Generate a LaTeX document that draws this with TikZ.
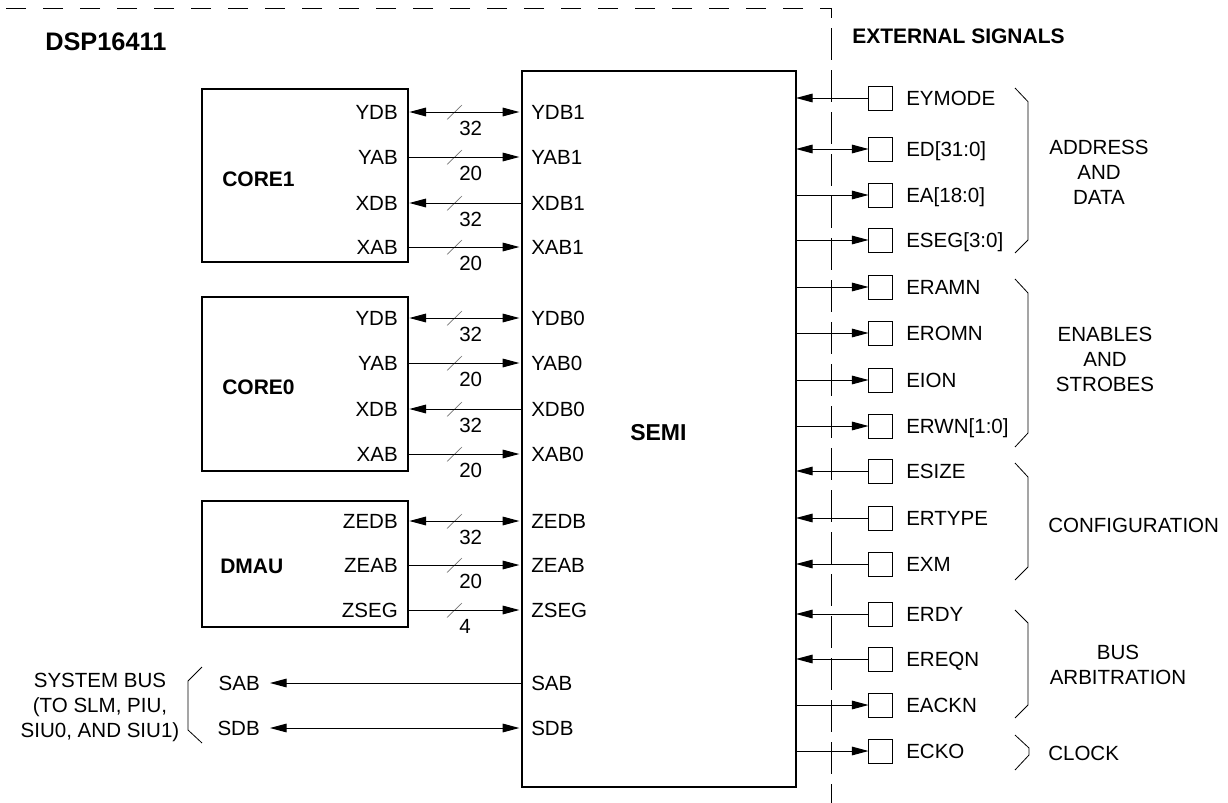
\documentclass[tikz,border=0pt]{standalone}
\usepackage{fontspec}
\setmainfont{Liberation Sans}
\usetikzlibrary{arrows.meta}
\begin{document}
\begin{tikzpicture}[x=0.75pt,y=-0.75pt,
  >={Triangle[length=12.5pt,width=6.5pt]},
  blk/.style={draw, line width=1.5pt, inner sep=0pt, outer sep=0pt, anchor=north west},
  sig/.style={line width=0.75pt},
  pinbox/.style={draw, line width=0.75pt, minimum size=18pt, inner sep=0pt, outer sep=0pt},
  txt/.style={font=\fontsize{15.4}{18.75}\selectfont, inner sep=0pt},
  btxt/.style={font=\fontsize{15.75}{19}\selectfont\bfseries, inner sep=0pt},
  bw/.style={draw=black!55, line width=0.5pt},
  brc/.style={line width=0.6pt},
  dsh/.style={line width=0.75pt, dash pattern=on 15pt off 12.75pt},
  vdsh/.style={line width=0.75pt, dash pattern=on 24pt off 7.5pt}]

\path[use as bounding box] (0,0) rectangle (1228,803);

% blocks
\node[blk, minimum width=154.5pt, minimum height=129.75pt] (core1) at (202,89) {};
\node[blk, minimum width=154.5pt, minimum height=130.5pt] (core0) at (202,297) {};
\node[blk, minimum width=154.5pt, minimum height=94.5pt] (dmau) at (202,501) {};
\node[blk, minimum width=205.5pt, minimum height=537pt] (semi) at (522,71) {};

% titles
\node[btxt, anchor=base west] (tcore1) at (222,186) {CORE1};
\node[btxt, anchor=base west] (tcore0) at (222,394) {CORE0};
\node[btxt, anchor=base west] (tdmau) at (220,573) {DMAU};
\node[font=\fontsize{17.25}{20}\selectfont\bfseries, inner sep=0pt, anchor=base west] (tsemi) at (630,440) {SEMI};
\node[font=\fontsize{19}{22}\selectfont\bfseries, inner sep=0pt, anchor=base west] (tdsp) at (45,50) {DSP16411};
\node[btxt, anchor=base west] (text) at (852,43) {EXTERNAL SIGNALS};

% dashed boundary
\coordinate (corner) at (831,8);
\coordinate (hend) at (0,8);
\coordinate (vend) at (831,803);
\draw[dsh, dash phase=6.75pt] (corner) -- (hend);
\draw[vdsh, dash phase=16.5pt] (corner) -- (vend);

% internal buses: labels
\foreach \y/\l/\r/\w in {112/YDB/YDB1/32, 157/YAB/YAB1/20, 203/XDB/XDB1/32, 247/XAB/XAB1/20,
                         318/YDB/YDB0/32, 363/YAB/YAB0/20, 409/XDB/XDB0/32, 454/XAB/XAB0/20,
                         521/ZEDB/ZEDB/32, 565/ZEAB/ZEAB/20, 610/ZSEG/ZSEG/4} {
  \node[txt, anchor=base east] (bl\y) at (398,\y+7) {\l};
  \node[txt, anchor=base west] (br\y) at (531,\y+7) {\r};
  \draw[bw] (447,\y+7.5) -- (462,\y-7);
  \node[txt, anchor=base west] (bn\y) at (459,\y+23) {\w};
}
% internal buses: connectors
\foreach \y/\b in {112/core1, 318/core0, 521/dmau}
  \draw[sig,<->, shorten <=1pt, shorten >=2pt] (\b.east |- 0,\y) -- (semi.west |- 0,\y);
\foreach \y/\b in {157/core1, 247/core1, 363/core0, 454/core0, 565/dmau, 610/dmau}
  \draw[sig,->, shorten >=2pt] (\b.east |- 0,\y) -- (semi.west |- 0,\y);
\foreach \y/\b in {203/core1, 409/core0}
  \draw[sig,<-, shorten <=1pt] (\b.east |- 0,\y) -- (semi.west |- 0,\y);

% system bus
\node[txt, anchor=base east] (sabl) at (260,690) {SAB};
\node[txt, anchor=base east] (sdbl) at (260,735) {SDB};
\node[txt, anchor=base west] (sabr) at (531,690) {SAB};
\node[txt, anchor=base west] (sdbr) at (531,735) {SDB};
\coordinate (sabend) at (270,683);
\coordinate (sdbend) at (270,728);
\draw[sig,<-] (sabend) -- (semi.west |- sabend);
\draw[sig,<->, shorten >=2pt] (sdbend) -- (semi.west |- sdbend);
\draw[brc] (202,667) -- (188,681) -- (188,730) -- (202,743);
\node[txt, align=center, anchor=north] (sysbus) at (100,673) {SYSTEM BUS\\(TO SLM, PIU,\\SIU0, AND SIU1)};

% external pins
\foreach \y/\n [count=\i] in {98/EYMODE, 149/ED[31:0], 195/EA[18:0], 240/ESEG[3:0],
    287/ERAMN, 333/EROMN, 380/EION, 426/ERWN[1:0],
    471/ESIZE, 518/ERTYPE, 564/EXM,
    614/ERDY, 659/EREQN, 705/EACKN, 751/ECKO} {
  \node[pinbox] (p\i) at (880.5,\y) {};
  \node[txt, anchor=base west] (pl\i) at (906,\y+7) {\n};
}
\foreach \i in {1,9,10,11,12,13}
  \draw[sig,->] (p\i.west) -- (semi.east |- p\i.west);
\draw[sig,<->] (semi.east |- p2.west) -- (p2.west);
\foreach \i in {3,4,5,6,7,8,14,15}
  \draw[sig,->] (semi.east |- p\i.west) -- (p\i.west);

% group braces
\draw[brc] (1015,88) -- (1028,101.7) -- (1028,240) -- (1015,253);
\draw[brc] (1015,279) -- (1028,293) -- (1028,433) -- (1015,447);
\draw[brc] (1015,463) -- (1028,477) -- (1028,567) -- (1015,580);
\draw[brc] (1015,610) -- (1028,623) -- (1028,705) -- (1015,718);
\draw[brc] (1015,735) -- (1029,748) -- (1029,755) -- (1015,770);

\node[txt, align=center, anchor=north] (gaddr) at (1099,140) {ADDRESS\\AND\\DATA};
\node[txt, align=center, anchor=north] (genab) at (1105,327) {ENABLES\\AND\\STROBES};
\node[txt, anchor=base west] (gconf) at (1048,532) {CONFIGURATION};
\node[txt, align=center, anchor=north] (gbus) at (1118,645) {BUS\\ARBITRATION};
\node[txt, anchor=base west] (gclk) at (1048,760) {CLOCK};
\end{tikzpicture}
\end{document}
